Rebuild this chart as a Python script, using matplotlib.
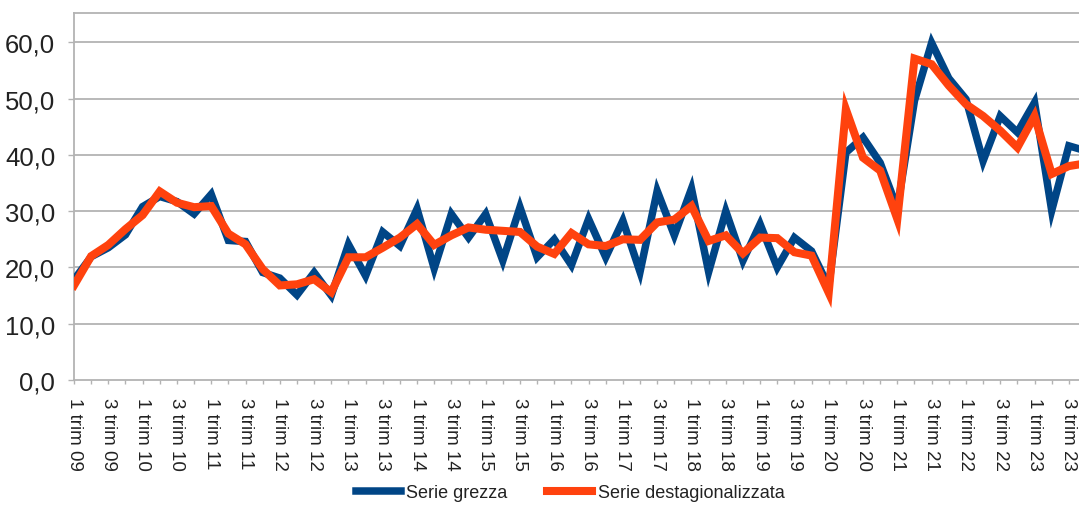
# -*- coding: utf-8 -*-
"""
Serie grezza e destagionalizzata, dati trimestrali 2009-2023.
"""

from matplotlib import pyplot, font_manager

# trimestri dal 1 trim 09 al 4 trim 23
anni = list(range(9, 24))
trimestri = ["%i trim %02i" % (q, a) for a in anni for q in (1, 2, 3, 4)]

serie_grezza = [
    17.8, 21.9, 23.5, 25.8, 30.8, 32.6, 31.7, 29.5, 33.0, 24.8,
    24.6, 19.1, 18.1, 15.1, 19.1, 15.0, 24.1, 18.5, 26.3, 23.8,
    30.4, 19.8, 29.5, 25.3, 29.5, 21.2, 30.7, 21.8, 25.0, 20.4,
    28.6, 21.8, 28.3, 19.2, 33.6, 25.7, 34.0, 19.2, 30.0, 21.2,
    27.7, 20.0, 25.3, 22.9, 16.6, 40.4, 43.1, 38.6, 30.5, 49.6,
    59.9, 53.6, 49.9, 38.9, 46.9, 44.0, 49.3, 30.1, 41.6, 40.7,
]
serie_destag = [
    16.8, 22.0, 24.0, 26.8, 29.3, 33.5, 31.5, 30.7, 30.9, 26.0,
    24.1, 19.7, 16.8, 17.0, 17.9, 15.6, 21.8, 21.8, 23.5, 25.3,
    27.7, 24.0, 25.7, 27.1, 26.7, 26.5, 26.3, 23.7, 22.4, 26.1,
    24.1, 23.8, 25.0, 24.9, 28.0, 28.5, 30.9, 24.7, 25.7, 22.5,
    25.3, 25.2, 22.7, 22.1, 15.5, 48.1, 39.5, 37.2, 28.6, 57.1,
    56.1, 52.3, 49.0, 46.9, 44.3, 41.3, 46.9, 36.6, 38.0, 38.5,
]

valori_y = [0, 10, 20, 30, 40, 50, 60]

blu = '#004586'
arancio = '#ff420e'
grigio = '#b3b3b3'
testo = '#222222'

# carattere stretto se disponibile, altrimenti Liberation Sans
nomi_font = {f.name for f in font_manager.fontManager.ttflist}
if 'Liberation Sans Narrow' in nomi_font:
    font_stretto = ['Liberation Sans Narrow', 'DejaVu Sans']
    dim_y, dim_leg = 20, 15
else:
    font_stretto = ['Liberation Sans', 'DejaVu Sans']
    dim_y, dim_leg = 18.5, 13

pyplot.rcParams['font.family'] = font_stretto

fig = pyplot.figure(figsize=(10.79, 5.06), dpi=100)
# l'area del grafico sborda a destra come nell'immagine originale
ax = fig.add_axes([74 / 1079, 125 / 506, 1012 / 1079, 367 / 506])

x = list(range(len(trimestri)))
ax.plot(x, serie_grezza, color=blu, linewidth=5.4, solid_joinstyle='miter',
        label='Serie grezza', zorder=3)
ax.plot(x, serie_destag, color=arancio, linewidth=5.8,
        solid_joinstyle='miter', label='Serie destagionalizzata', zorder=4)

ax.set_xlim(0, len(trimestri) - 1)
ax.set_ylim(0, 65.2)

ax.set_yticks(valori_y)
ax.set_yticklabels([("%.1f" % v).replace('.', ',') for v in valori_y],
                   fontsize=dim_y, family=font_stretto)
for v in valori_y[1:]:
    ax.axhline(v, color=grigio, linewidth=1.3, zorder=1)

ax.set_xticks(x)
etichette = [t if i % 2 == 0 else '' for i, t in enumerate(trimestri)]
ax.set_xticklabels(etichette, rotation=270, fontsize=13.5,
                   family=['Liberation Sans', 'DejaVu Sans'],
                   ha='center', va='top')

ax.tick_params(axis='y', length=4.5, width=1, color=grigio, pad=9,
               labelcolor=testo)
ax.tick_params(axis='x', length=3, width=1, color=grigio, pad=9,
               labelcolor=testo)

for lato in ['left', 'top', 'bottom', 'right']:
    ax.spines[lato].set_color(grigio)
    ax.spines[lato].set_linewidth(1.3)

leg = fig.legend(loc='center', bbox_to_anchor=(570 / 1079, 1 - 494 / 506),
                 ncol=2, frameon=False, handlelength=2.5,
                 handletextpad=0.3, columnspacing=2.2, borderpad=0,
                 prop={'family': font_stretto, 'size': dim_leg})
for t in leg.get_texts():
    t.set_color(testo)

fig.savefig('out.png', dpi=100)
pyplot.close()
